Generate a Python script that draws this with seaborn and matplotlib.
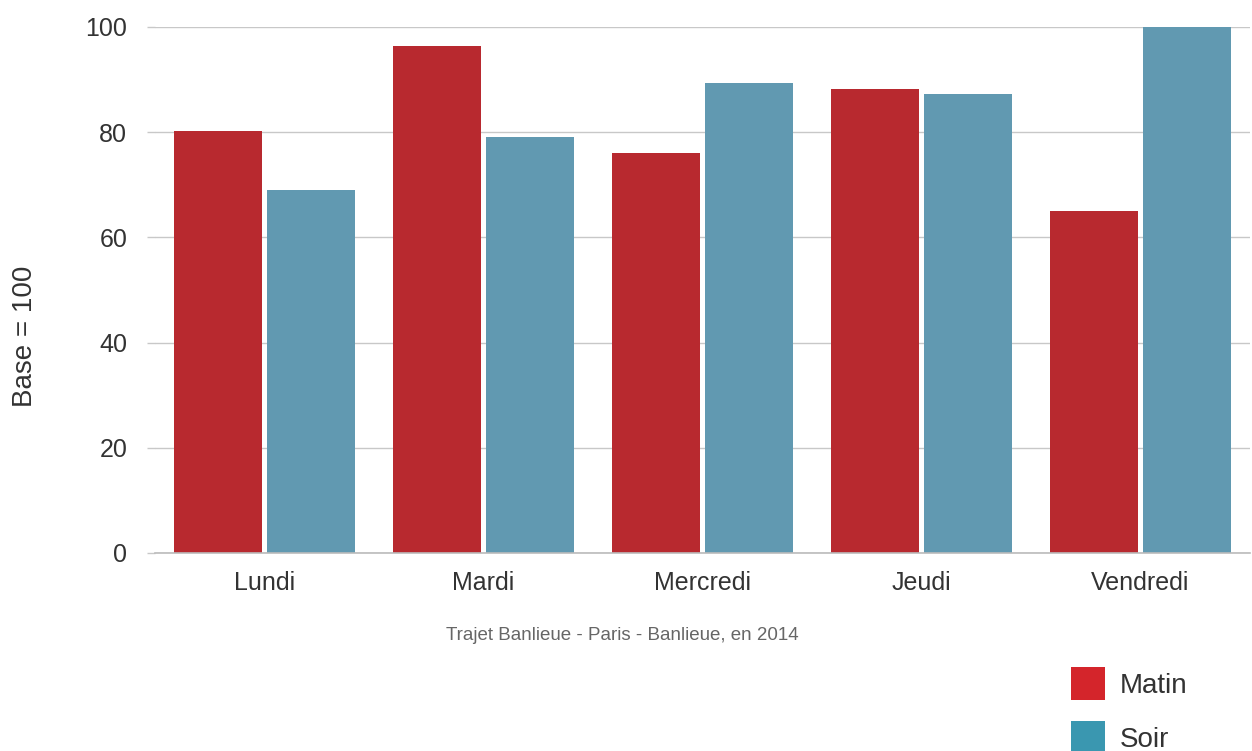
import numpy as np
import pandas as pd
import seaborn as sns
import matplotlib.pyplot as plt
from matplotlib.patches import Patch
from matplotlib import font_manager

sns.set_theme(style="white")
plt.rcParams['font.family'] = ['Liberation Sans', 'DejaVu Sans']

# Data
jours = ["Lundi", "Mardi", "Mercredi", "Jeudi", "Vendredi"]
matin = [80.3, 96.4, 76.0, 88.2, 65.0]
soir = [69.0, 79.1, 89.4, 87.3, 100.0]
series = ["Matin", "Soir"]

bar_colors = {"Matin": "#B8292F", "Soir": "#6199B1"}
legend_colors = {"Matin": "#D4252B", "Soir": "#3A97B0"}
text_color = "#333333"

# narrow font for the caption if there is one
installed = {f.name for f in font_manager.fontManager.ttflist}
if "Liberation Sans Narrow" in installed:
    caption_font, caption_size = "Liberation Sans Narrow", 18
else:
    caption_font, caption_size = "Liberation Sans", 13.5

df = pd.DataFrame({"jour": jours, "Matin": matin, "Soir": soir})
df = df.melt(id_vars="jour", var_name="moment", value_name="valeur")

fig = plt.figure(figsize=(12.52, 7.51), dpi=100)
ax = fig.add_axes([155 / 1252, 1 - 553 / 751, 1095 / 1252, 526 / 751])

sns.barplot(data=df, x="jour", y="valeur", hue="moment", order=jours,
            hue_order=series, palette=bar_colors, width=0.85, gap=0.05,
            saturation=1, linewidth=0, ax=ax, legend=False)

ax.set_ylim(0, 100)
ax.set_xlim(-0.5, 4.5)
ax.set_yticks([0, 20, 40, 60, 80, 100])
ax.yaxis.grid(True, color="#C8C8C8", linewidth=1)
ax.set_axisbelow(True)
for s in ["top", "right", "left"]:
    ax.spines[s].set_visible(False)
ax.spines["bottom"].set_color("#BBBBBB")
ax.spines["bottom"].set_linewidth(1.2)

ax.tick_params(axis="y", left=True, length=6, color="#C8C8C8", width=1,
               labelsize=18, labelcolor=text_color, pad=14)
ax.tick_params(axis="x", bottom=False, labelsize=18, labelcolor=text_color, pad=7)

ax.set_xlabel("")
ax.set_ylabel("Base = 100", fontsize=20, color=text_color)
ax.yaxis.set_label_coords(-0.107, 0.412)

fig.text(622 / 1252, 1 - 635 / 751, "Trajet Banlieue - Paris - Banlieue, en 2014",
         ha="center", va="center", fontsize=caption_size, color="#666666",
         family=[caption_font, "DejaVu Sans"])

handles = [Patch(facecolor=legend_colors[s], edgecolor="none", label=s) for s in series]
fig.legend(handles=handles, loc="upper left", bbox_to_anchor=(1071 / 1252, 1 - 667 / 751),
           frameon=False, fontsize=20, labelcolor=text_color, handlelength=1.22,
           handleheight=1.44, handletextpad=0.55, labelspacing=0.78,
           borderpad=0, borderaxespad=0)

fig.savefig("out.png", dpi=100)
